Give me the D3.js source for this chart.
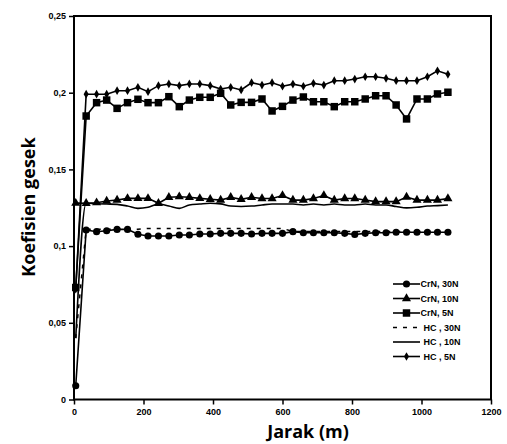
<!DOCTYPE html>
<html><head><meta charset="utf-8">
<script src="https://cdn.jsdelivr.net/npm/d3@7"></script>
<style>body{margin:0;background:#fff}svg{display:block}</style>
</head><body>
<svg id="c" width="507" height="444"></svg>
<script>
const distances = [5, 35, 65, 94, 124, 154, 184, 213, 243, 273, 303, 332, 362, 392, 422, 451, 481, 511, 541, 570, 600, 630, 660, 689, 719, 749, 779, 808, 838, 868, 898, 927, 957, 987, 1017, 1046, 1076];

const crn30 = [0.009, 0.1105, 0.1094, 0.110, 0.1109, 0.1109, 0.1077, 0.1066, 0.1066, 0.1066, 0.1072, 0.1072, 0.1079, 0.1079, 0.1083, 0.1083, 0.1083, 0.1079, 0.1083, 0.1083, 0.1083, 0.1094, 0.1087, 0.1087, 0.1087, 0.1087, 0.1083, 0.1076, 0.1083, 0.1087, 0.1087, 0.109, 0.109, 0.109, 0.109, 0.109, 0.109];
const crn10 = [0.128, 0.1279, 0.1283, 0.1294, 0.130, 0.1311, 0.1311, 0.1311, 0.1279, 0.1318, 0.1322, 0.1318, 0.1311, 0.1305, 0.130, 0.1318, 0.1305, 0.1318, 0.131, 0.131, 0.133, 0.130, 0.130, 0.131, 0.133, 0.130, 0.131, 0.131, 0.130, 0.129, 0.129, 0.129, 0.132, 0.130, 0.130, 0.130, 0.131];
const crn5 = [0.073, 0.1848, 0.1935, 0.1952, 0.1898, 0.1935, 0.1957, 0.1935, 0.1935, 0.1974, 0.1909, 0.1952, 0.197, 0.197, 0.1996, 0.192, 0.1937, 0.1937, 0.1959, 0.1881, 0.1911, 0.1952, 0.1972, 0.1941, 0.1941, 0.1909, 0.1941, 0.1941, 0.1959, 0.198, 0.198, 0.192, 0.1829, 0.1959, 0.1959, 0.1992, 0.2003];
const hc30 = [0.04, 0.111, 0.111, 0.111, 0.111, 0.111, 0.111, 0.1115, 0.1115, 0.1115, 0.1115, 0.1115, 0.1115, 0.1115, 0.1115, 0.1115, 0.1115, 0.1115, 0.1115, 0.1115, 0.1115, 0.1095, 0.1095, 0.1095, 0.1095, 0.1095, 0.1095, 0.1095, 0.1095, 0.1095, 0.1095, 0.1095, 0.1095, 0.1095, 0.1095, 0.1095, 0.1095];
const hc10 = [0.04, 0.1279, 0.1276, 0.1274, 0.1272, 0.1261, 0.1246, 0.1253, 0.1274, 0.1261, 0.1246, 0.1268, 0.1274, 0.1279, 0.1275, 0.1261, 0.1258, 0.1261, 0.1268, 0.1274, 0.1274, 0.1274, 0.1268, 0.1274, 0.1268, 0.1274, 0.1268, 0.1268, 0.1274, 0.1268, 0.1268, 0.1258, 0.1249, 0.1253, 0.1261, 0.1264, 0.1268];
const hc5 = [0.072, 0.199, 0.199, 0.199, 0.2013, 0.2013, 0.2035, 0.2007, 0.2046, 0.2057, 0.2046, 0.2057, 0.2057, 0.2046, 0.2024, 0.2035, 0.2018, 0.2065, 0.205, 0.2065, 0.2042, 0.2056, 0.2042, 0.2061, 0.205, 0.2078, 0.2078, 0.2089, 0.2104, 0.2104, 0.2094, 0.2078, 0.2078, 0.2078, 0.2104, 0.2143, 0.212];

const seriesNames = ["CrN, 30N", "CrN, 10N", "CrN, 5N", "HC , 30N", "HC , 10N", "HC , 5N"];
const xTicks = [0, 200, 400, 600, 800, 1000, 1200];
const yTicks = [0, 0.05, 0.1, 0.15, 0.2, 0.25];
const xTitle = "Jarak (m)";
const yTitle = "Koefisien gesek";

const svg = d3.select("#c");
const x = d3.scaleLinear().domain([0, 1200]).range([74, 491]);
const y = d3.scaleLinear().domain([0, 0.25]).range([399.5, 16]);
const fmt = v => String(+v.toFixed(2)).replace(".", ",");

const series = [
  {name: seriesNames[0], vals: crn30, marker: "circle", dash: null, curve: d3.curveLinear},
  {name: seriesNames[1], vals: crn10, marker: "triangle", dash: null, curve: d3.curveLinear},
  {name: seriesNames[2], vals: crn5, marker: "square", dash: null, curve: d3.curveLinear},
  {name: seriesNames[3], vals: hc30, marker: null, dash: "4,6", curve: d3.curveLinear},
  {name: seriesNames[4], vals: hc10, marker: null, dash: null, curve: d3.curveMonotoneX},
  {name: seriesNames[5], vals: hc5, marker: "diamond", dash: null, curve: d3.curveLinear}
];

const symSize = {circle: 40, triangle: 36, square: 56, diamond: 22};
const symType = {circle: d3.symbolCircle, triangle: d3.symbolTriangle, square: d3.symbolSquare, diamond: d3.symbolDiamond};

// axes
const gx = svg.append("g").attr("transform", "translate(0,399.5)")
  .call(d3.axisBottom(x).tickValues(xTicks).tickSize(5).tickPadding(4).tickFormat(d => d));
const gy = svg.append("g").attr("transform", "translate(74,0)")
  .call(d3.axisLeft(y).tickValues(yTicks).tickSize(5).tickPadding(3).tickFormat(fmt));
[gx, gy].forEach(g => {
  g.select(".domain").remove();
  g.selectAll(".tick line").attr("stroke", "#000").attr("stroke-width", 1.5);
  g.selectAll(".tick text").attr("fill", "#000").style("font-family", "Liberation Sans, Arial, sans-serif")
    .style("font-size", "9px").style("font-weight", "bold");
});
// frame
svg.append("rect").attr("x", 74).attr("y", 16).attr("width", 417).attr("height", 383.5)
  .attr("fill", "none").attr("stroke", "#000").attr("stroke-width", 2);

// series
series.forEach(s => {
  const line = d3.line().x((d, i) => x(distances[i])).y(d => y(d)).curve(s.curve);
  svg.append("path").datum(s.vals).attr("d", line).attr("fill", "none")
    .attr("stroke", "#000").attr("stroke-width", s.dash ? 1.5 : 1.6)
    .attr("stroke-dasharray", s.dash);
  if (s.marker) {
    svg.append("g").selectAll("path").data(s.vals).join("path")
      .attr("transform", (d, i) => `translate(${x(distances[i])},${y(d)})`)
      .attr("d", d3.symbol().type(symType[s.marker]).size(symSize[s.marker]))
      .attr("fill", "#000");
  }
});

// legend
const lg = svg.append("g");
series.forEach((s, i) => {
  const yy = 284 + i * 14.5;
  lg.append("line").attr("x1", 393).attr("x2", 420).attr("y1", yy).attr("y2", yy)
    .attr("stroke", "#000").attr("stroke-width", 1.6).attr("stroke-dasharray", s.dash);
  if (s.marker) {
    lg.append("path").attr("transform", `translate(406.5,${yy})`)
      .attr("d", d3.symbol().type(symType[s.marker]).size(symSize[s.marker])).attr("fill", "#000");
  }
  lg.append("text").attr("x", s.name.startsWith("HC") ? 423.5 : 420.5).attr("y", yy + 3.3)
    .text(s.name).style("font-family", "Liberation Sans, Arial, sans-serif")
    .style("font-size", "9px").style("font-weight", "bold").attr("fill", "#000");
});

// titles
svg.append("text").attr("x", 308).attr("y", 438).attr("text-anchor", "middle")
  .text(xTitle).style("font-family", "Open Sans, sans-serif").style("font-size", "18px")
  .style("font-weight", "bold").attr("fill", "#000");
svg.append("text").attr("transform", "translate(35,207) rotate(-90)").attr("text-anchor", "middle")
  .text(yTitle).style("font-family", "Open Sans, sans-serif").style("font-size", "18px")
  .style("font-weight", "bold").attr("fill", "#000");
</script>
</body></html>
